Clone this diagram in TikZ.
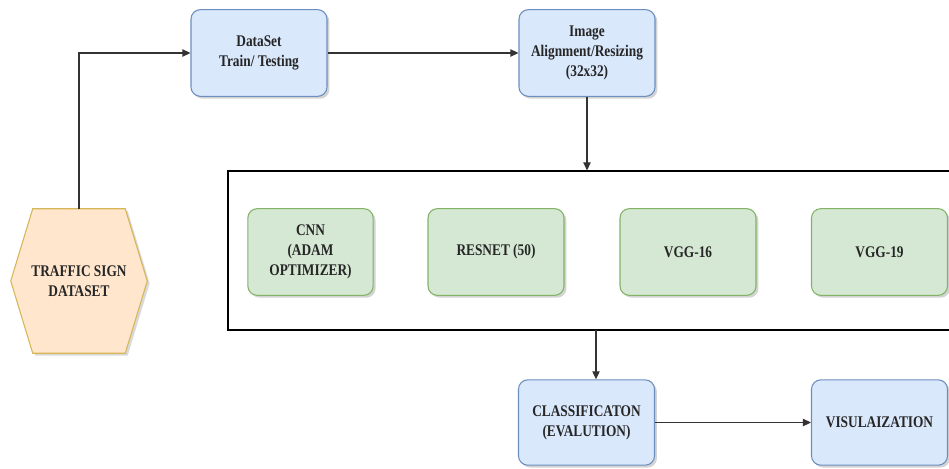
\documentclass[tikz,border=0pt]{standalone}
\usepackage{fontspec}
\setmainfont{Liberation Serif}[FakeStretch=0.82]
\usepackage{tikz}
\usetikzlibrary{arrows.meta,shadows,calc}

\definecolor{bluefill}{HTML}{DAE8FC}
\definecolor{blueline}{HTML}{6C8EBF}
\definecolor{greenfill}{HTML}{D5E8D4}
\definecolor{greenline}{HTML}{82B366}
\definecolor{hexfill}{HTML}{FFE6CC}
\definecolor{hexline}{HTML}{D6B656}

\tikzset{
  boxtext/.style={font=\fontsize{12.2}{15}\selectfont\bfseries, align=center, text=black!85},
  bluebox/.style={boxtext, draw=blueline, fill=bluefill, rounded corners=7pt, line width=0.8pt,
    minimum width=102pt, minimum height=65pt, inner sep=2pt,
    drop shadow={shadow xshift=1.8pt, shadow yshift=-1.8pt, opacity=0.35}},
  greenbox/.style={bluebox, draw=greenline, fill=greenfill},
  flow/.style={draw=black!80, line width=0.8pt, -{Triangle[length=6pt,width=5.5pt]}}
}

\begin{document}
\begin{tikzpicture}[x=0.75pt,y=-0.75pt]
      \useasboundingbox (0,0) rectangle (949,468);
      % top row
      \node[bluebox] (train) at (259,53) {DataSet\\Train/ Testing};
      \node[bluebox] (align) at (587,53) {Image\\Alignment/Resizing\\(32x32)};
      % dataset hexagon
      \node[boxtext, minimum width=102pt, minimum height=108pt, inner sep=0pt] (traffic) at (79,281) {};
      \draw[draw=hexline, fill=hexfill, line width=0.8pt,
            drop shadow={shadow xshift=1.8pt, shadow yshift=-1.8pt, opacity=0.3}]
        ($(traffic.north west)+(22,0)$) -- ($(traffic.north east)+(-22,0)$) -- (traffic.east)
        -- ($(traffic.south east)+(-22,0)$) -- ($(traffic.south west)+(22,0)$) -- (traffic.west) -- cycle;
      \node[boxtext] at (traffic) {TRAFFIC SIGN\\DATASET};
      % models (right side runs off the page)
      \node[draw=black, line width=1.1pt, minimum width=560pt, minimum height=119pt, inner sep=0pt]
        (models) at (601.3,250.5) {};
      \node[greenbox, minimum width=94pt] (cnn) at (310.5,252) {CNN\\(ADAM\\OPTIMIZER)};
      \node[greenbox] (resnet) at (496,252) {RESNET (50)};
      \node[greenbox] (vgga) at (688,252) {VGG-16};
      \node[greenbox] (vggb) at (879.5,252) {VGG-19};
      % bottom row
      \node[bluebox, minimum height=64pt] (classif) at (586.5,422.5) {CLASSIFICATON\\(EVALUTION)};
      \node[bluebox, minimum height=64pt] (visual) at (879.5,422.5) {VISULAIZATION};
      % connectors
      \coordinate (drop) at (596,330);
      \draw[flow] (traffic.north) |- (train.west);
      \draw[flow] (train.east) -- (align.west);
      \draw[flow] (align.south) -- (align.south |- models.north);
      \draw[flow] (drop) -- (drop |- classif.north);
      \draw[flow] (classif.east) -- (visual.west);
    \end{tikzpicture}
\end{document}
